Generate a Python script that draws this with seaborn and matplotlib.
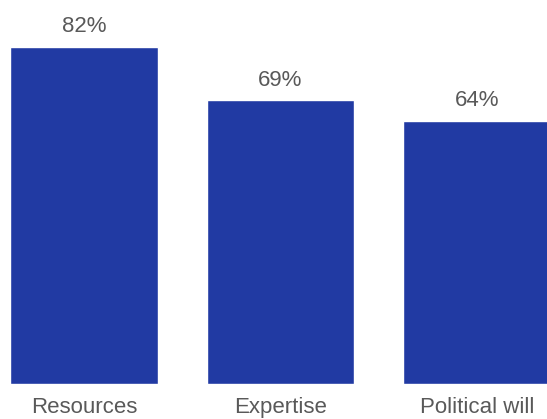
import matplotlib
matplotlib.use("Agg")
import matplotlib.pyplot as plt
import seaborn as sns
import pandas as pd

categories = ["Resources", "Expertise", "Political will"]
values = [82, 69, 64]
value_labels = ["82%", "69%", "64%"]

sns.set_theme(style="white")
plt.rcParams['font.family'] = ['Liberation Sans', 'DejaVu Sans']

df = pd.DataFrame({"category": categories, "value": values})

fig = plt.figure(figsize=(5.47, 4.19), dpi=100)
ax = fig.add_axes([0, 35/419, 1, 384/419])
sns.barplot(data=df, x="category", y="value", color="#213AA3", width=0.75,
            saturation=1, ax=ax)
ax.set_xlim(-0.4275, 2.356)
ax.set_ylim(0, 93.4)
for i, (v, lab) in enumerate(zip(values, value_labels)):
    ax.annotate(lab, (i, v), xytext=(0, 7), textcoords="offset points",
                ha="center", va="bottom", fontsize=16, color="#595959")
ax.set_xlabel("")
ax.set_ylabel("")
ax.set_yticks([])
ax.tick_params(axis="x", length=0, pad=9, labelsize=16, colors="#595959")
for s in ax.spines.values():
    s.set_visible(False)
fig.savefig("out.png", dpi=100)
